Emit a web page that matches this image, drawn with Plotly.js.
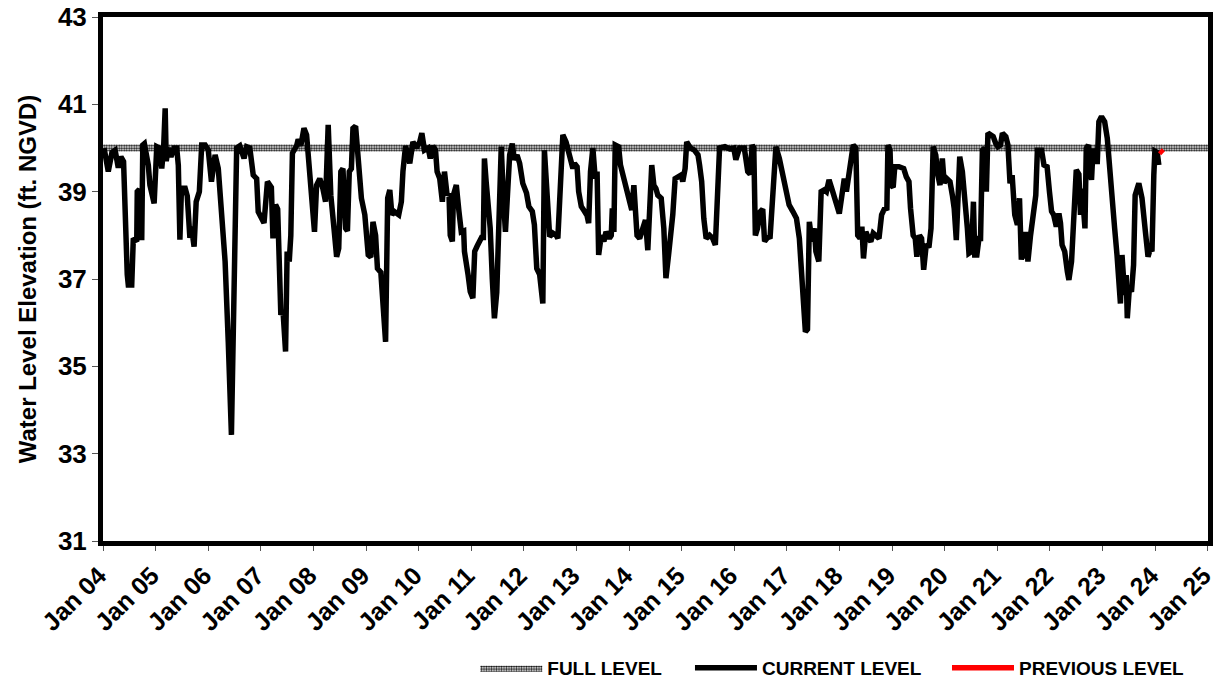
<!DOCTYPE html>
<html>
<head>
<meta charset="utf-8">
<script src="https://cdn.plot.ly/plotly-3.0.1.min.js"></script>
<style>
  html, body { margin: 0; padding: 0; background: #fff; }
  #chart { width: 1217px; height: 683px; }
</style>
</head>
<body>
<div id="chart"></div>
<script>
// ---- Data (decimal years) ----
const currentYears = [
  2004.02,2004.10,2004.17,2004.23,2004.29,2004.34,2004.39,2004.42,2004.46,2004.48,2004.545,2004.575,2004.61,2004.64,2004.65,2004.69,2004.70,2004.735,2004.755,2004.785,2004.86,2004.89,2004.97,
  2005.02,2005.07,2005.115,2005.15,2005.18,2005.20,2005.24,2005.29,2005.35,2005.40,2005.43,2005.46,2005.49,2005.56,2005.60,2005.65,2005.68,2005.73,2005.77,2005.83,2005.875,2005.94,
  2006.00,2006.06,2006.13,2006.19,2006.25,2006.32,2006.38,2006.44,2006.47,2006.51,2006.54,2006.60,2006.68,2006.73,2006.79,2006.855,2006.92,2006.95,
  2007.01,2007.06,2007.125,2007.20,2007.23,2007.28,2007.32,2007.38,2007.42,2007.47,2007.50,2007.54,2007.57,2007.60,2007.68,2007.71,2007.76,2007.82,2007.87,2007.93,2007.99,
  2008.02,2008.06,2008.12,2008.18,2008.23,2008.28,2008.33,2008.39,2008.44,2008.48,2008.52,2008.56,2008.61,2008.645,2008.68,2008.72,2008.75,2008.80,2008.85,2008.91,2008.975,
  2009.04,2009.09,2009.13,2009.18,2009.215,2009.28,2009.32,2009.37,2009.41,2009.45,2009.49,2009.54,2009.62,2009.67,2009.70,2009.75,2009.83,2009.89,2009.955,
  2010.02,2010.06,2010.11,2010.18,2010.22,2010.27,2010.32,2010.35,2010.40,2010.45,2010.49,2010.54,2010.575,2010.60,2010.64,2010.66,2010.715,2010.765,2010.81,2010.855,2010.87,2010.94,2010.98,
  2011.03,2011.065,2011.11,2011.16,2011.195,2011.23,2011.25,2011.285,2011.315,2011.36,2011.40,2011.44,2011.485,2011.54,2011.57,2011.61,2011.65,2011.695,2011.73,2011.78,2011.82,2011.87,2011.92,2011.98,
  2012.05,2012.095,2012.16,2012.20,2012.245,2012.30,2012.36,2012.39,2012.425,2012.455,2012.49,2012.55,2012.615,2012.645,2012.69,2012.74,2012.80,2012.88,2012.93,2012.96,
  2013.01,2013.04,2013.09,2013.15,2013.20,2013.23,2013.265,2013.31,2013.355,2013.39,2013.42,2013.47,2013.52,2013.56,2013.625,2013.66,2013.68,2013.71,2013.735,2013.80,2013.835,2013.90,2013.96,
  2014.005,2014.05,2014.09,2014.11,2014.15,2014.20,2014.26,2014.31,2014.355,2014.405,2014.43,2014.47,2014.51,2014.545,2014.61,2014.66,2014.70,2014.75,2014.785,2014.83,2014.875,2014.925,2014.99,
  2015.02,2015.065,2015.095,2015.165,2015.24,2015.31,2015.34,2015.38,2015.42,2015.465,2015.53,2015.59,2015.64,2015.68,2015.72,2015.82,2015.91,2015.99,
  2016.03,2016.10,2016.19,2016.255,2016.30,2016.34,2016.37,2016.40,2016.44,2016.49,2016.54,2016.575,2016.63,2016.68,2016.73,2016.79,2016.855,2016.92,2016.98,
  2017.04,2017.11,2017.18,2017.235,2017.30,2017.35,2017.39,2017.425,2017.475,2017.52,2017.55,2017.605,2017.65,2017.71,2017.75,2017.80,2017.87,2017.93,2017.995,
  2018.045,2018.09,2018.13,2018.17,2018.215,2018.26,2018.31,2018.345,2018.39,2018.425,2018.455,2018.50,2018.55,2018.595,2018.64,2018.70,2018.75,2018.80,2018.85,2018.90,2018.92,2018.96,2018.98,
  2019.02,2019.05,2019.13,2019.22,2019.27,2019.32,2019.35,2019.40,2019.44,2019.47,2019.52,2019.56,2019.60,2019.65,2019.70,2019.74,2019.78,2019.83,2019.87,2019.91,2019.955,2019.99,
  2020.04,2020.10,2020.145,2020.18,2020.22,2020.255,2020.285,2020.335,2020.38,2020.43,2020.46,2020.51,2020.545,2020.57,2020.61,2020.65,2020.68,2020.715,2020.76,2020.79,2020.82,2020.87,2020.92,2020.97,
  2021.01,2021.06,2021.095,2021.16,2021.20,2021.24,2021.28,2021.33,2021.38,2021.42,2021.455,2021.49,2021.525,2021.555,2021.58,2021.63,2021.68,2021.73,2021.76,2021.79,2021.84,2021.885,2021.945,2021.99,
  2022.03,2022.07,2022.12,2022.17,2022.20,2022.23,2022.28,2022.33,2022.36,2022.41,2022.455,2022.50,2022.55,2022.58,2022.61,2022.665,2022.69,2022.73,2022.75,2022.79,2022.82,2022.855,2022.90,2022.93,2022.98,
  2023.04,2023.09,2023.13,2023.18,2023.23,2023.275,2023.31,2023.34,2023.37,2023.42,2023.45,2023.47,2023.51,2023.55,2023.59,2023.62,2023.69,2023.75,2023.815,2023.865,2023.91,2023.94,2023.975,2023.995,
  2024.04,2024.07
];
const currentLevels = [
  40.0,39.46,39.9,39.95,39.55,39.8,39.69,38.3,37.1,36.86,36.86,37.93,37.9,37.86,39.0,39.05,37.95,37.95,40.07,40.1,39.6,39.15,38.73,
  40.03,40.0,39.53,40.0,40.91,39.7,40.0,39.8,40.0,40.0,39.6,37.9,39.08,39.08,38.9,37.94,38.2,37.74,38.77,39.0,40.07,40.07,
  39.95,39.23,39.84,39.53,38.7,37.4,35.56,33.43,35.41,38.16,40.0,40.05,39.76,40.03,40.0,39.38,39.3,38.54,
  38.4,38.28,39.23,39.1,37.93,38.7,38.6,36.18,36.3,35.34,37.63,37.4,38.0,39.88,40.05,40.2,40.05,40.45,40.3,39.3,38.31,
  38.08,39.15,39.3,39.07,38.77,40.53,38.92,38.16,37.51,37.7,39.46,39.53,38.16,38.1,39.46,39.53,40.45,40.5,39.8,38.85,38.47,
  37.55,37.5,38.31,38.0,37.24,37.15,36.4,35.56,38.85,39.04,38.47,38.54,38.47,38.77,39.46,40.05,39.65,40.14,40.0,
  40.14,40.34,39.95,40.0,39.76,40.05,39.95,39.46,39.3,38.77,39.46,38.92,38.97,38.0,37.86,38.92,39.15,38.55,38.08,38.1,37.63,37.09,36.71,
  36.56,37.63,37.75,37.86,37.95,37.95,39.76,39.2,38.77,38.16,37.0,36.1,36.7,38.92,40.03,38.85,38.08,39.07,39.84,40.1,39.73,39.84,39.65,39.19,
  38.97,38.66,38.55,38.24,37.24,37.1,36.44,39.95,39.15,39.0,37.97,38.05,38.0,37.93,39.38,40.3,40.14,39.76,39.53,39.65,
  39.57,39.0,38.66,38.55,38.45,38.28,39.46,40.0,39.3,39.46,37.55,38.0,37.86,38.08,37.93,38.0,38.62,38.08,40.07,40.03,39.61,39.3,39.0,
  38.7,38.58,39.15,38.62,38.0,37.93,38.12,38.35,37.66,38.7,39.61,39.15,39.07,38.92,38.85,38.16,37.02,37.55,37.93,38.47,39.3,39.34,39.38,
  39.23,39.53,40.14,40.0,39.95,39.84,39.61,39.23,38.39,37.93,38.0,37.93,37.78,38.92,40.0,40.03,39.98,40.0,
  39.73,40.0,40.0,39.46,39.4,40.07,40.0,38.0,38.16,38.54,38.6,37.86,37.95,37.97,38.92,40.03,39.76,39.38,39.0,
  38.7,38.55,38.39,37.93,36.79,35.79,35.85,38.31,37.86,38.16,37.63,37.4,39.0,39.04,39.0,39.27,39.0,38.7,38.5,
  38.92,39.3,39.0,39.38,39.57,40.07,40.0,38.0,37.93,38.2,37.47,38.08,37.93,37.86,38.05,37.97,37.93,38.47,38.6,38.62,40.07,39.95,39.15,
  39.1,39.57,39.57,39.53,39.34,39.23,38.62,38.0,37.93,37.51,38.0,37.93,37.21,37.8,37.72,38.16,40.03,39.84,39.38,39.15,39.76,39.2,
  39.3,39.23,38.92,38.62,37.89,38.92,39.8,39.46,38.92,38.16,37.59,37.63,38.77,37.55,37.55,37.93,37.93,39.95,40.0,39.0,40.34,40.3,40.26,40.1,
  40.03,40.07,40.34,40.26,40.07,39.19,39.38,38.47,38.24,38.85,37.44,38.08,37.47,38.08,37.4,38.0,38.47,38.92,39.95,39.95,39.95,39.61,39.57,39.0,
  38.55,38.47,38.2,38.5,38.28,37.78,37.63,37.17,36.98,37.4,38.77,39.5,39.4,38.47,39.07,38.16,39.99,40.07,39.69,39.27,39.99,39.69,39.69,40.6,40.72,
  40.6,40.22,39.53,38.85,38.16,37.55,36.86,36.44,37.55,36.63,37.09,36.1,36.79,36.71,37.32,38.92,39.19,38.85,38.08,37.51,37.7,37.63,39.38,39.93,
  39.9,39.61
];
const previousYears = [2024.09, 2024.12, 2024.15];
const previousLevels = [39.95, 39.92, 39.88];
const fullLevel = 40.0;
const fullYears = [2004.0, 2025.003];

const seriesNames = ['FULL LEVEL', 'CURRENT LEVEL', 'PREVIOUS LEVEL'];
const yTickValues = [31, 33, 35, 37, 39, 41, 43];

// decimal year -> date string for Plotly's date axis
function yearToDate(t) {
  const y = Math.floor(t);
  const a = Date.UTC(y, 0, 1), b = Date.UTC(y + 1, 0, 1);
  return new Date(a + (t - y) * (b - a)).toISOString().slice(0, 19).replace('T', ' ');
}

const FONT = 'Liberation Sans, Arial, Helvetica, sans-serif';
const bandHalf = 0.08; // half thickness of the hatched full-level band (style)
const xRange = [yearToDate(2004.0), yearToDate(2025.003)];

const fullX = fullYears.map(yearToDate);
const traces = [
  {
    x: fullX, y: fullX.map(() => fullLevel - bandHalf),
    type: 'scatter', mode: 'lines', line: {width: 0, color: 'rgba(0,0,0,0)'},
    showlegend: false, hoverinfo: 'skip'
  },
  {
    x: fullX, y: fullX.map(() => fullLevel + bandHalf),
    type: 'scatter', mode: 'lines', name: seriesNames[0], legend: 'legend',
    line: {width: 0, color: 'rgba(0,0,0,0)'},
    fill: 'tonexty', fillcolor: '#ffffff',
    fillpattern: {shape: '.', size: 2.5, solidity: 0.55, fgcolor: '#111111', bgcolor: '#ffffff'}
  },
  {
    x: currentYears.map(yearToDate), y: currentLevels,
    type: 'scatter', mode: 'lines', name: seriesNames[1], legend: 'legend2',
    line: {color: '#000000', width: 5.5}
  },
  {
    x: previousYears.map(yearToDate), y: previousLevels,
    type: 'scatter', mode: 'lines', name: seriesNames[2], legend: 'legend3',
    line: {color: '#ff0000', width: 5.5}
  }
];

function legendAt(xPaper) {
  return {
    orientation: 'h', x: xPaper, xanchor: 'left',
    yref: 'container', y: 0.022, yanchor: 'middle',
    font: {family: FONT, size: 19, color: '#000000', weight: 'bold'},
    itemwidth: 62, bgcolor: 'rgba(0,0,0,0)', borderwidth: 0
  };
}

const layout = {
  width: 1217, height: 683,
  margin: {l: 103, r: 9, t: 17, b: 142, pad: 0, autoexpand: false},
  paper_bgcolor: '#ffffff', plot_bgcolor: '#ffffff',
  font: {family: FONT, color: '#000000', weight: 'bold'},
  showlegend: true,
  legend: legendAt(0.3369),
  legend2: legendAt(0.5312),
  legend3: legendAt(0.7638),
  xaxis: {
    type: 'date', automargin: false,
    range: xRange,
    tick0: yearToDate(2004.0), dtick: 'M12', tickformat: '%b %y',
    tickangle: -45, ticklabeloverflow: 'allow', ticklabelshift: -4,
    tickfont: {family: FONT, size: 25, color: '#000000', weight: 'bold'},
    ticks: 'outside', ticklen: 5, tickwidth: 1, tickcolor: '#555555',
    showline: true, linecolor: '#000000', linewidth: 5, mirror: true,
    showgrid: false, zeroline: false
  },
  xaxis2: {
    type: 'date', overlaying: 'x', anchor: 'y', side: 'bottom', automargin: false,
    range: xRange, tick0: yearToDate(2004.0), dtick: 'M12',
    ticks: 'inside', ticklen: 5, tickwidth: 1, tickcolor: '#555555',
    showticklabels: false, showline: false, showgrid: false, zeroline: false
  },
  yaxis: {
    range: [31, 43], tickvals: yTickValues, automargin: false,
    tickfont: {family: FONT, size: 26, color: '#000000', weight: 'bold'},
    ticks: 'outside', ticklen: 6, tickwidth: 1, tickcolor: '#555555',
    showline: true, linecolor: '#000000', linewidth: 5, mirror: true,
    showgrid: false, zeroline: false,
    title: {text: 'Water Level Elevation (ft. NGVD)', standoff: 16,
            font: {family: FONT, size: 24, color: '#000000', weight: 'bold'}}
  }
};

Plotly.newPlot('chart', traces, layout, {displayModeBar: false, staticPlot: true});
</script>
</body>
</html>
